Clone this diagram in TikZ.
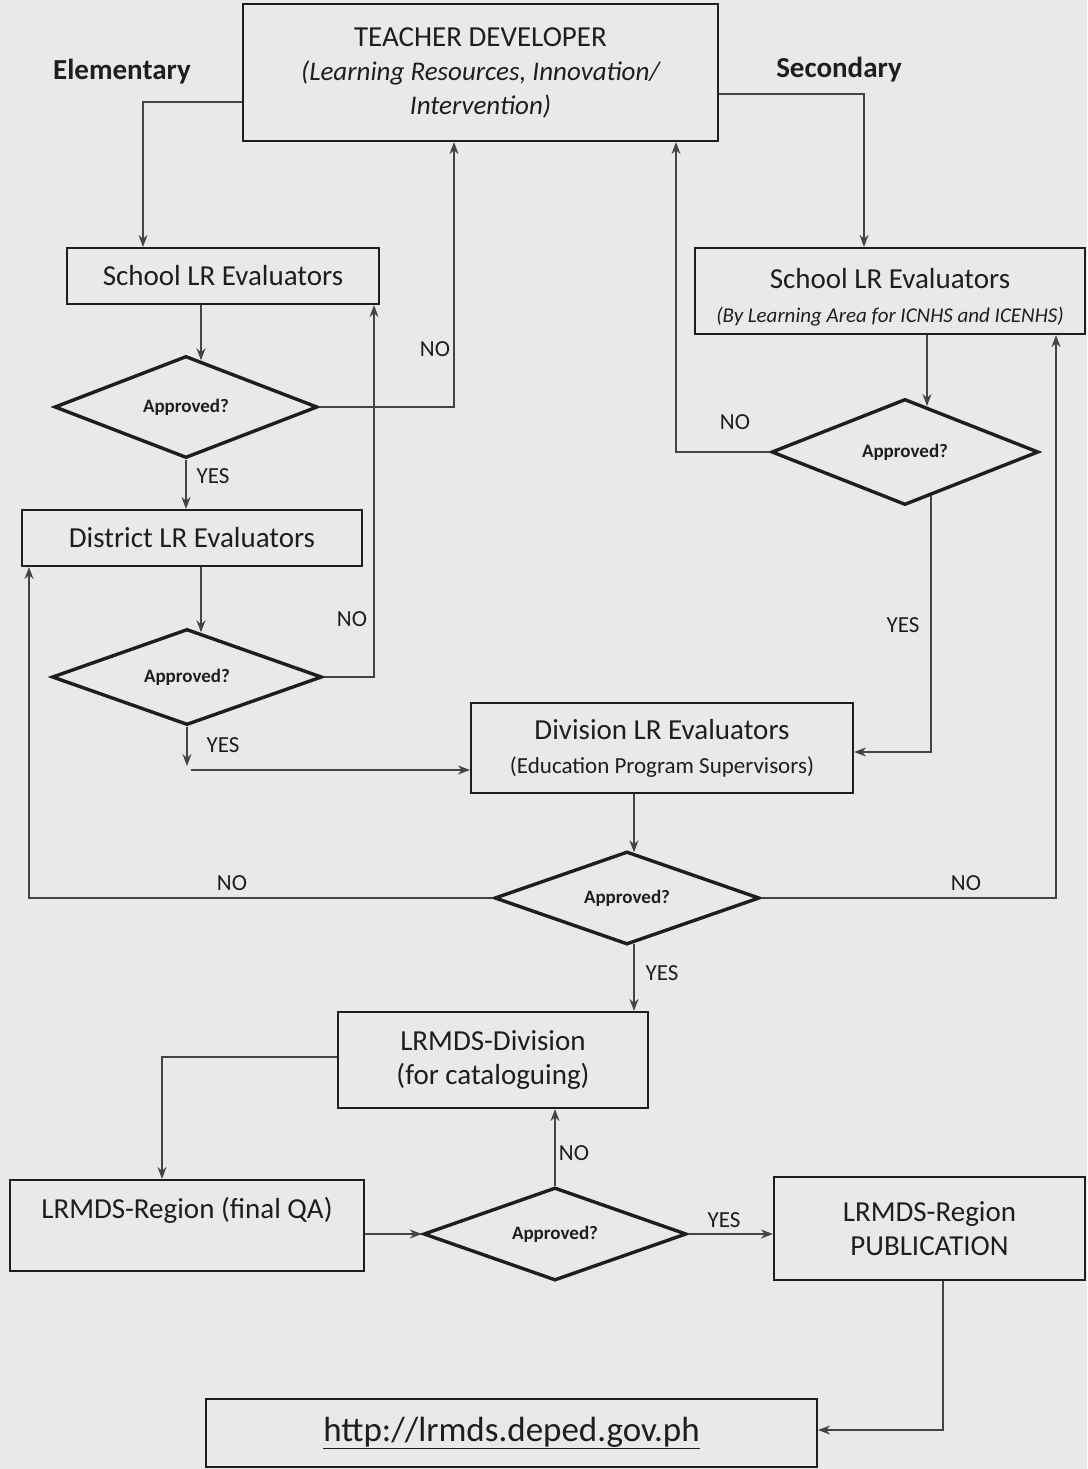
\documentclass[tikz,border=0pt]{standalone}
\usepackage{fontspec}
\setmainfont{Carlito}
\usetikzlibrary{shapes.geometric,arrows.meta}
\definecolor{bgc}{HTML}{E9E9E9}
\definecolor{ink}{HTML}{1E1E1E}
\definecolor{linec}{HTML}{444444}
\begin{document}
\begin{tikzpicture}[x=1pt,y=-1pt,
 box/.style={draw=ink,line width=2.2pt,inner sep=0pt,align=center,text=ink,font=\fontsize{29}{34}\selectfont},
 dia/.style={diamond,shape aspect=2.8,draw=ink,line width=3.4pt,inner sep=0pt,text=ink,font=\bfseries\fontsize{19}{22}\selectfont},
 arr/.style={draw=linec,line width=1.5pt,-{Stealth[length=12pt,width=9pt]}},
 lbl/.style={text=ink,font=\fontsize{23}{27}\selectfont,inner sep=0pt},
 head/.style={text=ink,font=\bfseries\fontsize{29}{34}\selectfont,inner sep=0pt}]
\fill[bgc] (0,0) rectangle (1087,1469);
\useasboundingbox (0,0) rectangle (1087,1469);

% headers
\node[head] (elem) at (122,72) {Elementary};
\node[head] (sec) at (839,70) {Secondary};

% boxes
\node[box,minimum width=475pt,minimum height=137pt] (teacher) at (480.5,72.5)
 {TEACHER DEVELOPER\\ \itshape\fontsize{27}{32}\selectfont (Learning Resources, Innovation/\\ \itshape\fontsize{27}{32}\selectfont Intervention)};
\node[box,minimum width=312pt,minimum height=56pt] (schoolL) at (223,276) {School LR Evaluators};
\node[box,minimum width=390pt,minimum height=86pt] (schoolR) at (890,291)
 {\rule{0pt}{33pt}School LR Evaluators\\ \itshape\fontsize{21}{26}\selectfont (By Learning Area for ICNHS and ICENHS)};
\node[box,minimum width=340pt,minimum height=56pt] (district) at (192,538) {District LR Evaluators};
\node[box,minimum width=382pt,minimum height=90pt] (division) at (662,748)
 {Division LR Evaluators\\ \fontsize{23}{28}\selectfont (Education Program Supervisors)};
\node[box,minimum width=310pt,minimum height=96pt] (lrdiv) at (493,1060) {LRMDS-Division\\(for cataloguing)};
\node[box,minimum width=354pt,minimum height=91pt] (lrreg) at (187,1225.5) {};
\node[text=ink,font=\fontsize{29}{34}\selectfont,inner sep=0pt] (lrregt) at (187,1210) {LRMDS-Region (final QA)};
\node[box,minimum width=311pt,minimum height=103pt] (pub) at (929.5,1228.5) {LRMDS-Region\\PUBLICATION};
\node[box,minimum width=611pt,minimum height=68pt,font=\fontsize{35}{40}\selectfont] (url) at (511.5,1433) {\underline{http://lrmds.deped.gov.ph}};

% decisions
\node[dia,minimum width=263pt,minimum height=102pt] (d1) at (186,407) {Approved?};
\node[dia,minimum width=270pt,minimum height=96pt] (d2) at (187,677) {Approved?};
\node[dia,minimum width=267pt,minimum height=106pt] (dR) at (905,452) {Approved?};
\node[dia,minimum width=265pt,minimum height=93pt] (d3) at (627,898) {Approved?};
\node[dia,minimum width=263pt,minimum height=93pt] (d4) at (555,1234) {Approved?};

% connectors
\draw[arr] ([yshift=-29.5pt]teacher.west) -| ([xshift=-80pt]schoolL.north);
\draw[arr] ([yshift=-21.5pt]teacher.east) -| ([xshift=-26pt]schoolR.north);
\draw[arr] ([xshift=-22pt]schoolL.south) -- ([xshift=15pt,yshift=-6pt]d1.north);
\draw[arr] (d1.east) -| ([xshift=-26.5pt]teacher.south);
\draw[arr] (d1.south) -- (d1.south |- district.north);
\draw[arr] ([xshift=9pt]district.south) -- ([xshift=14pt,yshift=-5pt]d2.north);
\draw[arr] (d2.east) -| ([xshift=151pt]schoolL.south);
\coordinate (c1) at (187,766);
\draw[arr] (d2.south) -- (c1);
\draw[arr] ([xshift=4pt,yshift=-4pt]c1) -- ([yshift=-22pt]division.west);
\draw[arr] ([xshift=37pt]schoolR.south) -- ([xshift=22pt,yshift=-8.7pt]dR.north);
\draw[arr] (dR.west) -| ([xshift=195.5pt]teacher.south);
\draw[arr] ([xshift=26pt,yshift=10.3pt]dR.south) |- ([yshift=-4pt]division.east);
\draw[arr] ([xshift=-28pt]division.south) -- ([xshift=7pt,yshift=-2.5pt]d3.north);
\draw[arr] (d3.west) -| ([xshift=-163pt]district.south);
\draw[arr] (d3.east) -| ([xshift=166pt]schoolR.south);
\draw[arr] ([xshift=7pt,yshift=2.5pt]d3.south) -- ([xshift=141pt]lrdiv.north);
\draw[arr] ([yshift=3pt]lrdiv.west) -| ([xshift=-25pt]lrreg.north);
\draw[arr] (lrreg.east |- d4.west) -- (d4.west);
\draw[arr] (d4.north) -- (d4.north |- lrdiv.south);
\draw[arr] (d4.east) -- (d4.east -| pub.west);
\draw[arr] ([xshift=13.5pt]pub.south) |- ([yshift=3pt]url.east);

% labels
\node[lbl] (no1) at (435,349) {NO};
\node[lbl] (yes1) at (213,476) {YES};
\node[lbl] (no2) at (352,619) {NO};
\node[lbl] (yes2) at (223,745) {YES};
\node[lbl] (no3) at (735,422) {NO};
\node[lbl] (yes3) at (903,625) {YES};
\node[lbl] (no4) at (232,883) {NO};
\node[lbl] (no5) at (966,883) {NO};
\node[lbl] (yes4) at (662,973) {YES};
\node[lbl] (no6) at (574,1153) {NO};
\node[lbl] (yes5) at (724,1220) {YES};
\end{tikzpicture}
\end{document}
